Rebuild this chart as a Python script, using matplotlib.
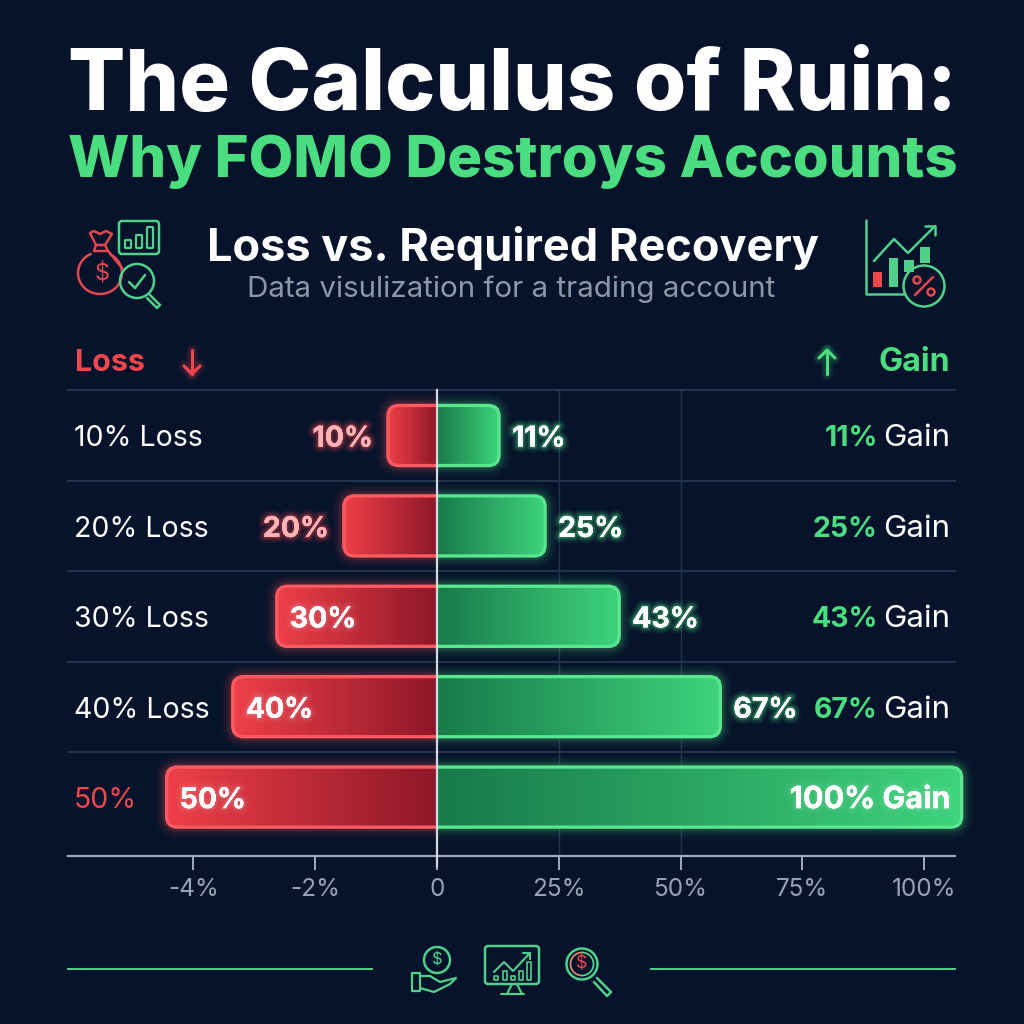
import numpy as np
import matplotlib
matplotlib.use("Agg")
import matplotlib.pyplot as plt
from matplotlib import patheffects as pe
from matplotlib.patches import Circle, FancyBboxPatch, Rectangle, Arc
from matplotlib.ticker import FixedLocator, FixedFormatter

# --- chart data -----------------------------------------------------------
loss_values = [10, 20, 30, 40, 50]
gain_values = [11, 25, 43, 67, 100]
row_labels = ["10% Loss", "20% Loss", "30% Loss", "40% Loss", "50%"]
tick_values = [-50, -25, 0, 25, 50, 75, 100]
tick_labels = ["-4%", "-2%", "0", "25%", "50%", "75%", "100%"]
grid_values = [25, 50]

# --- palette and type -----------------------------------------------------
BG = "#06132a"
RED = "#f0474f"
GREEN = "#4ade80"
MUTED = "#98a2b2"
RULE = "#22344e"
FONT = "Inter"

# The bars sit on an uneven ruler: value -> distance from the zero line.
ruler_values = np.array([-70, -50, -40, -30, -20, -10, 0, 11, 25, 43, 67, 100, 105], float)
ruler_units = np.array([-369, -270.5, -204.5, -160.5, -93.5, -49.5, 0, 61.5, 107.5, 181.5, 282.5, 523.5, 533], float)

W = H = 1024
fig = plt.figure(figsize=(W / 100, H / 100), dpi=100, facecolor=BG)
ZERO_X = 437
TOP_Y, BASE_Y = 390, 856
ROW0_Y, ROW_STEP = 435.5, 90.4


def px_axes(x0, x1, y0, y1, **kw):
    return fig.add_axes([x0 / W, 1 - y1 / H, (x1 - x0) / W, (y1 - y0) / H], **kw)


def row_limits():
    return ((BASE_Y - ROW0_Y) / ROW_STEP, (TOP_Y - ROW0_Y) / ROW_STEP)


# Tick axis: plain linear percentage ruler with the baseline and grid.
ax = px_axes(68, 955, TOP_Y, BASE_Y, facecolor="none", zorder=1)
ax.set_xlim((68 - ZERO_X) / 4.87, (955 - ZERO_X) / 4.87)
ax.set_ylim(*row_limits())
ax.xaxis.set_major_locator(FixedLocator(tick_values))
ax.xaxis.set_major_formatter(FixedFormatter(tick_labels))
ax.tick_params(axis="x", length=10, width=1.4, color="#a4adba", labelcolor=MUTED,
               pad=6, labelsize=17.5)
for lab in ax.get_xticklabels():
    lab.set_fontfamily(FONT)
ax.set_yticks([])
for side in ("top", "left", "right"):
    ax.spines[side].set_visible(False)
ax.spines["bottom"].set_color("#a4adba")
ax.spines["bottom"].set_linewidth(1.6)
for g in grid_values:
    ax.axvline(g, color=RULE, lw=1.0, zorder=0)
for i in range(5):
    ax.axhline(i - 0.5, color=RULE, lw=1.4, zorder=0, clip_on=False)

# Bar axis: shares the vertical extent, uses the uneven ruler horizontally.
bx = px_axes(68, 970, TOP_Y, BASE_Y, facecolor="none", zorder=2)
bx.set_xscale("function", functions=(
    lambda v: np.interp(v, ruler_values, ruler_units),
    lambda u: np.interp(u, ruler_units, ruler_values),
))
bx.set_xlim(-70, 104.4)
bx.set_ylim(*row_limits())
bx.axis("off")
rows = np.arange(len(loss_values))
loss_bars = bx.barh(rows, -np.array(loss_values), height=0.665, color="none", edgecolor="none")
gain_bars = bx.barh(rows, gain_values, height=0.665, color="none", edgecolor="none")

# Overlay in pixel coordinates for gradients, text and icons.
ov = fig.add_axes([0, 0, 1, 1], facecolor="none", zorder=3)
ov.set_xlim(0, W)
ov.set_ylim(H, 0)
ov.axis("off")


def rect_px(rect):
    """Pixel box (x0, x1, y0, y1) of a bar, top-down."""
    pts = bx.transData.transform(rect.get_bbox().get_points())
    xs = sorted(pts[:, 0])
    ys = sorted(H - pts[:, 1])
    return xs[0], xs[1], ys[0], ys[1]


def gradient_bar(rect, inner, outer, edge):
    x0, x1, y0, y1 = rect_px(rect)
    left_side = x0 < ZERO_X - 1
    # rounded box runs past the zero line and is trimmed back to it
    bx0 = x0 if left_side else x0 - 20
    bx1 = x1 + 20 if left_side else x1
    shape = dict(boxstyle="round,pad=0,rounding_size=11", mutation_aspect=1)
    kx0 = x0 - 30 if left_side else x0
    kx1 = x1 if left_side else x1 + 30
    keep = Rectangle((kx0, y0 - 30), kx1 - kx0, y1 - y0 + 60, transform=ov.transData)
    for lw, a in ((17, 0.035), (13, 0.05), (9, 0.07), (6, 0.11)):
        glow = FancyBboxPatch((bx0, y0), bx1 - bx0, y1 - y0, fc="none", ec=edge, lw=lw, alpha=a,
                              zorder=4, **shape)
        ov.add_patch(glow)
        glow.set_clip_path(keep)
    n = 256
    ramp = np.linspace(0, 1, n)[None, :, None]
    c0, c1 = (np.array(matplotlib.colors.to_rgb(c)) for c in ((outer, inner) if left_side else (inner, outer)))
    img = c0 + (c1 - c0) * ramp
    im = ov.imshow(img, extent=(x0, x1, y1, y0), aspect="auto", zorder=5, interpolation="bilinear")
    mask = FancyBboxPatch((bx0, y0), bx1 - bx0, y1 - y0, fc="none", ec="none", **shape)
    ov.add_patch(mask)
    im.set_clip_path(mask)
    line = FancyBboxPatch((bx0, y0), bx1 - bx0, y1 - y0, fc="none", ec=edge, lw=2.4, zorder=6, **shape)
    ov.add_patch(line)
    line.set_clip_path(keep)
    return x0, x1, (y0 + y1) / 2


def glow_fx(color, strength=1.0):
    return [pe.withStroke(linewidth=9, foreground=color, alpha=0.07 * strength),
            pe.withStroke(linewidth=6, foreground=color, alpha=0.11 * strength),
            pe.withStroke(linewidth=3, foreground=color, alpha=0.22 * strength),
            pe.Normal()]


def txt(x, y, s, size, color="white", weight="normal", ha="left", va="baseline", fx=None):
    t = ov.text(x, y, s, fontsize=size, color=color, fontweight=weight, ha=ha, va=va,
                fontfamily=FONT, zorder=10)
    if fx:
        t.set_path_effects(fx)
    return t


def fit(t, x0, x1):
    """Scale a text so its ink spans the requested pixel width."""
    r = fig.canvas.get_renderer()
    w = t.get_window_extent(r).width
    t.set_fontsize(t.get_fontsize() * (x1 - x0) / w)
    t.set_x(x0)


# --- headings -------------------------------------------------------------
fit(txt(68, 110, "The Calculus of Ruin:", 58, weight="heavy"), 68, 958)
fit(txt(68, 177, "Why FOMO Destroys Accounts", 44, GREEN, "heavy"), 68, 958)
fit(txt(207, 261, "Loss vs. Required Recovery", 32, weight="bold"), 207, 818)
fit(txt(247, 297, "Data visulization for a trading account", 21, "#8d97a7"), 247, 777)
fit(txt(75, 371, "Loss", 21, RED, "bold"), 75, 145)
fit(txt(878, 371, "Gain", 21, GREEN, "bold"), 878, 950)


def arrow_line(x, tail, tip, color):
    barb = 8 if tip > tail else -8
    for lw, a in ((9, 0.07), (6, 0.12), (2.2, 1)):
        ov.plot([x, x], [tail, tip], color=color, lw=lw, alpha=a, zorder=8, solid_capstyle="round")
        ov.plot([x - 8, x, x + 8], [tip - barb, tip, tip - barb], color=color, lw=lw, alpha=a, zorder=8,
                solid_capstyle="round")


arrow_line(192, 350, 374, RED)
arrow_line(827, 374, 350, GREEN)

# --- bars and row text ----------------------------------------------------
for i, (rl, rg) in enumerate(zip(loss_bars, gain_bars)):
    x0, _, yc = gradient_bar(rl, "#8e1728", "#ee3f48", "#ff5a62")
    _, x1, _ = gradient_bar(rg, "#187a4a", "#3ed37c", "#58e68f")
    base = yc + 11
    size = 20.5
    loss_txt = f"{loss_values[i]}%"
    if loss_values[i] >= 30:
        txt(x0 + 13, base, loss_txt, size, "white", "bold", fx=glow_fx("#ffffff", 0.35))
    else:
        txt(x0 - 15, base, loss_txt, size, "#ffb3b5", "bold", ha="right", fx=glow_fx(RED, 1.2))
    if gain_values[i] < 100:
        txt(x1 + 13, base, f"{gain_values[i]}%", size, "white", "bold", fx=glow_fx(GREEN, 1.2))
        txt(878, base, f"{gain_values[i]}%", size, GREEN, "bold", ha="right")
        txt(883, base, "Gain", 22.5, "white")
    else:
        txt(950, base, f"{gain_values[i]}% Gain", 22, "white", "bold", ha="right", fx=glow_fx("#ffffff", 0.3))
    is_last = i == len(loss_values) - 1
    txt(74, base, row_labels[i], size, RED if is_last else "white")

ov.plot([ZERO_X, ZERO_X], [TOP_Y, 866], color="#d5d9e0", lw=1.6, zorder=9)

# --- decorative line icons ------------------------------------------------
def stroke(points, color, lw=1.8, fill=None):
    xs, ys = zip(*points)
    ov.plot(xs, ys, color=color, lw=lw, zorder=8, solid_capstyle="round", solid_joinstyle="round")


def ring(cx, cy, r, color, lw=1.8):
    ov.add_patch(Circle((cx, cy), r, fc="none", ec=color, lw=lw, zorder=8))


def round_box(x, y, w, h, color, lw=1.8, rad=3):
    ov.add_patch(FancyBboxPatch((x, y), w, h, boxstyle=f"round,pad=0,rounding_size={rad}",
                                fc="none", ec=color, lw=lw, zorder=8))


def solid(x, y, w, h, color):
    ov.add_patch(Rectangle((x, y), w, h, fc=color, ec="none", zorder=8))


def dollar(x, y, size, color):
    ov.text(x, y, "$", fontsize=size, color=color, ha="center", va="center", fontfamily=FONT, zorder=8)


ICON_G = "#4fd08b"
ICON_R = "#e0484f"

# money bag with a small chart and magnifier
theta = np.linspace(np.radians(-62), np.radians(245), 60)
stroke(list(zip(100 + 22 * np.cos(theta) * 1.0, 273 + 21 * np.sin(theta))), ICON_R)
stroke([(90, 233), (94, 231), (100, 234), (106, 231), (112, 234), (105, 245), (96, 245), (90, 233)], ICON_R)
stroke([(96, 245), (94, 251), (108, 251), (105, 245)], ICON_R)
stroke([(109, 252), (122, 268)], ICON_R)
dollar(102, 273, 17, ICON_R)
round_box(119, 221, 40, 33, ICON_G)
for x, top in ((125, 240), (136, 235), (147, 227)):
    round_box(x, top, 6, 248 - top, ICON_G, lw=1.6, rad=0.8)
ring(137, 281, 17, ICON_G)
stroke([(129, 282), (135, 288), (145, 275)], ICON_G)
stroke([(150, 295), (160, 305), (157, 308), (147, 298)], ICON_G)

# chart with percentage badge
stroke([(866, 220), (866, 294), (905, 294)], ICON_G)
solid(873, 272, 9, 15, "#f0474f")
solid(889, 258, 9, 29, ICON_G)
solid(904, 260, 10, 12, ICON_G)
solid(920, 247, 10, 16, ICON_G)
stroke([(874, 261), (894, 239), (908, 253), (935, 226)], ICON_G)
stroke([(925, 226), (935, 226), (935, 235)], ICON_G)
ring(924, 286, 20.5, ICON_G)
stroke([(915, 295), (933, 277)], ICON_R)
ring(917, 280, 3.5, ICON_R)
ring(931, 292, 3.5, ICON_R)

# footer rules and icons
ov.plot([68, 372], [968.5, 968.5], color=ICON_G, lw=1.4, zorder=8)
ov.plot([651, 955], [968.5, 968.5], color=ICON_G, lw=1.4, zorder=8)
ring(437, 960, 13, ICON_G)
dollar(437, 960, 12, ICON_G)
round_box(412, 973, 8, 18, ICON_G, lw=1.6, rad=0.5)
stroke([(420, 976), (430, 976), (440, 982), (456, 978), (450, 984), (434, 992), (420, 988)], ICON_G, lw=1.6)
round_box(485, 946, 54, 38, ICON_G, rad=3)
stroke([(494, 972), (504, 962), (513, 971), (530, 953)], ICON_G, lw=1.5)
stroke([(523, 953), (530, 953), (530, 959)], ICON_G, lw=1.5)
for x, top, bot in ((494, 976, 980), (503, 971, 980), (511, 976, 980), (519, 971, 980), (527, 962, 980)):
    round_box(x, top, 4, bot - top, ICON_G, lw=1.2, rad=0.5)
stroke([(512, 984), (507, 994), (522, 994), (517, 984)], ICON_G, lw=1.5)
stroke([(501, 994), (524, 994)], ICON_G, lw=1.5)
ring(582, 964, 15.5, ICON_G)
ov.add_patch(Arc((582, 964), 23, 23, theta1=100, theta2=270, ec="#d98a70", lw=1.3, zorder=8))
ov.add_patch(Arc((582, 964), 23, 23, theta1=270, theta2=100, ec=ICON_G, lw=1.3, zorder=8))
dollar(582, 964, 13, "#f0474f")
stroke([(597, 978), (611, 992), (607, 996), (594, 982)], ICON_G)

ov.set_xlim(0, W)
ov.set_ylim(H, 0)
fig.savefig("out.png", dpi=100, facecolor=BG)
